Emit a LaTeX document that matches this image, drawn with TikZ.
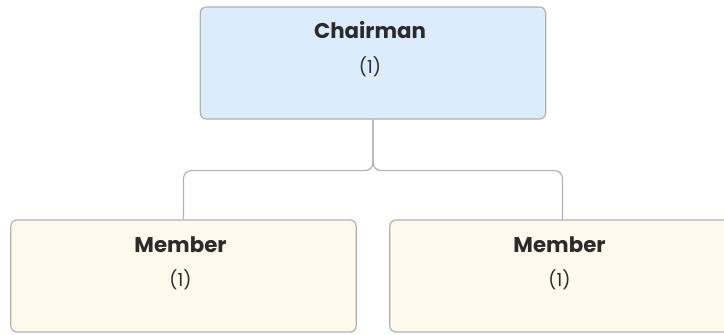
\documentclass[tikz,border=0pt]{standalone}
\usepackage{fontspec}
\setmainfont{Poppins}
\usetikzlibrary{positioning, calc}
\definecolor{chairblue}{RGB}{220, 236, 253}
\definecolor{membercream}{RGB}{254, 249, 236}
\definecolor{edgegray}{RGB}{176, 176, 176}
\definecolor{textdark}{RGB}{43, 43, 43}

\tikzset{
    orgbox/.style={draw=edgegray, line width=0.9pt, rounded corners=4.5pt,
                   minimum width=259pt, minimum height=84pt, inner sep=0pt},
    titletext/.style={text=textdark, font=\bfseries\fontsize{16}{18}\selectfont, inner sep=0pt},
    counttext/.style={text=textdark, font=\fontsize{13.5}{15}\selectfont, inner sep=0pt},
    linkline/.style={draw=edgegray, line width=0.9pt, rounded corners=6pt}
}

\begin{document}
\begin{tikzpicture}[x=0.75pt, y=-0.75pt]
    \useasboundingbox (0,0) rectangle (724,335);

    % boxes
    \node[orgbox, fill=chairblue] (chair) at (373,63) {};
    \node[orgbox, fill=membercream] (memberA) at (183.5,276) {};
    \node[orgbox, fill=membercream] (memberB) at (562.5,276) {};

    % texts
    \node[titletext] (chairtitle) at ($(chair.north)+(-3,24)$) {Chairman};
    \node[counttext] (chaircount) at ($(chair.north)+(-3,60)$) {(1)};
    \node[titletext] (memberAtitle) at ($(memberA.north)+(-3,25)$) {Member};
    \node[counttext] (memberAcount) at ($(memberA.north)+(-3,60)$) {(1)};
    \node[titletext] (memberBtitle) at ($(memberB.north)+(-3,25)$) {Member};
    \node[counttext] (memberBcount) at ($(memberB.north)+(-3,60)$) {(1)};

    % connectors
    \coordinate (split) at ($(chair.south)+(0,51)$);
    \draw[linkline] (chair.south) -- (split) -| (memberA.north);
    \draw[linkline] (chair.south) -- (split) -| (memberB.north);
\end{tikzpicture}
\end{document}
